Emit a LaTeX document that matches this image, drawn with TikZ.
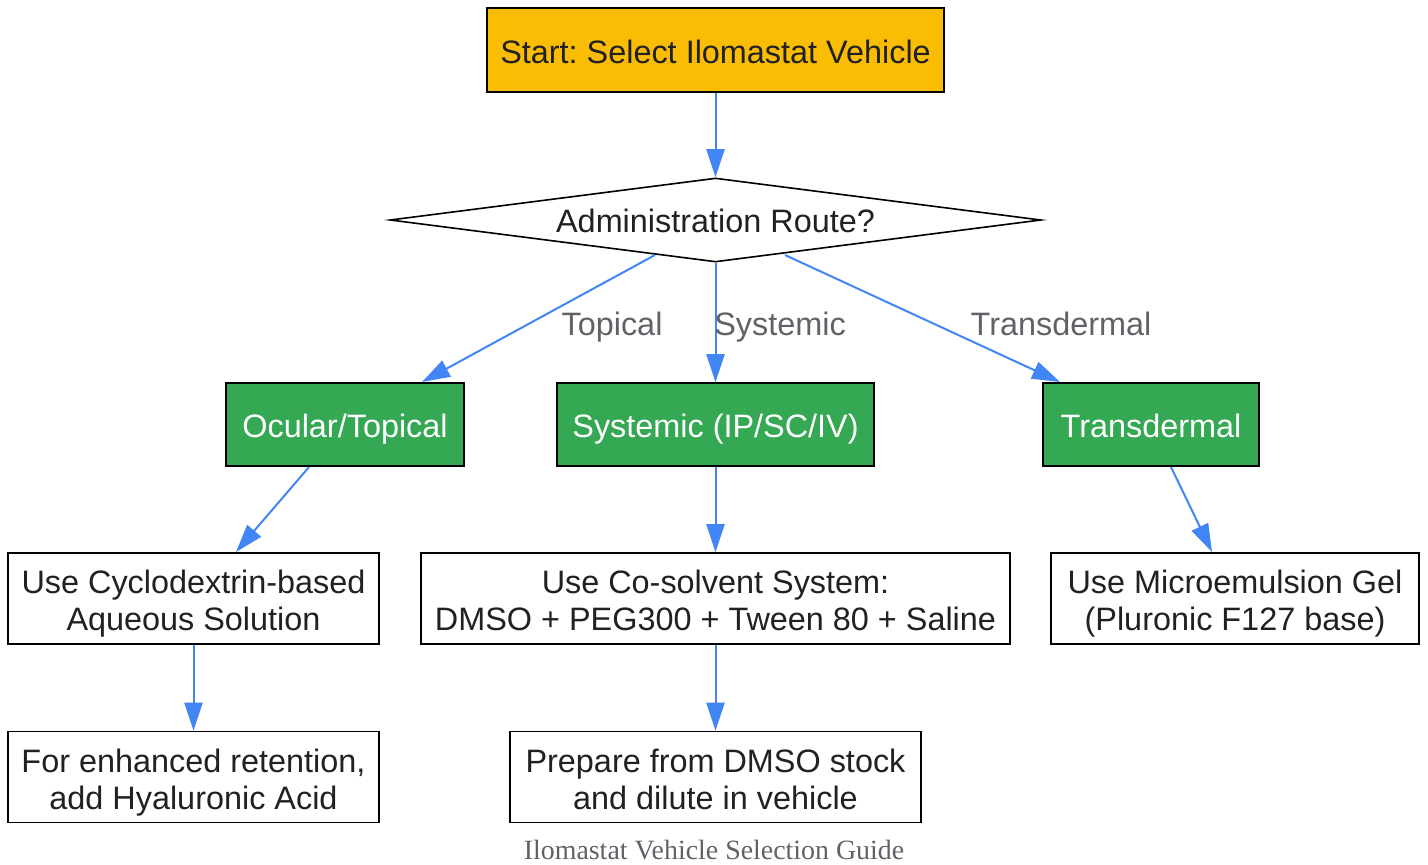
\documentclass[tikz,border=0pt]{standalone}
\usepackage{fontspec}
\setmainfont{Liberation Sans}
\newfontfamily\capfont{Liberation Serif}
\usetikzlibrary{shapes.geometric,arrows.meta}
\frenchspacing
\definecolor{startc}{HTML}{FBBC04}
\definecolor{greenc}{HTML}{34A853}
\definecolor{bluec}{HTML}{4285F4}
\definecolor{textc}{HTML}{202124}
\definecolor{labc}{HTML}{5F6368}
\tikzset{
  x=0.5pt, y=-0.5pt,
  base/.style={draw=black, line width=0.8pt, font=\fontsize{16.2}{18.5}\selectfont\frenchspacing, text=textc, inner sep=0pt, align=center},
  oneline/.style={text height=1.43em, text depth=0.13em},
  startbox/.style={base, oneline, rectangle, fill=startc, minimum width=228.5pt, minimum height=42pt},
  routebox/.style={base, oneline, rectangle, fill=greenc, text=white, minimum height=41.5pt},
  plainbox/.style={base, rectangle, fill=white, minimum height=45.5pt},
  decision/.style={base, text height=1.38em, text depth=0.13em, diamond, fill=white, aspect=7.8, minimum width=325.5pt, minimum height=42pt},
  conn/.style={draw=bluec, line width=1pt, -{Triangle[length=14pt,width=9pt]}},
  elab/.style={font=\fontsize{16.2}{18.5}\selectfont, text=labc},
}
\begin{document}
\begin{tikzpicture}
\useasboundingbox (0,0) rectangle (1428,864);
\node[startbox] (start) at (715.5,50) {Start: Select Ilomastat Vehicle};
\node[decision] (route) at (715.5,220) {Administration Route?};
\node[routebox, minimum width=119pt] (ocular) at (345,424.5) {Ocular/Topical};
\node[routebox, minimum width=158.5pt] (sys) at (715.5,424.5) {Systemic (IP/SC/IV)};
\node[routebox, minimum width=108pt] (trans) at (1151,424.5) {Transdermal};
\node[plainbox, minimum width=185.5pt] (cyclo) at (193.5,598.5) {\rule{0pt}{1.06em}Use Cyclodextrin-based\\Aqueous Solution\rule[-0.22em]{0pt}{0.1em}};
\node[plainbox, minimum width=294.5pt] (cosol) at (715.5,598.5) {\rule{0pt}{1.06em}Use Co-solvent System:\\DMSO + PEG300 + Tween 80 + Saline\rule[-0.22em]{0pt}{0.1em}};
\node[plainbox, minimum width=184pt] (micro) at (1235,598.5) {\rule{0pt}{1.06em}Use Microemulsion Gel\\(Pluronic F127 base)\rule[-0.22em]{0pt}{0.1em}};
\node[plainbox, minimum width=185.5pt] (hyal) at (193.5,777) {\rule{0pt}{1.06em}For enhanced retention,\\add Hyaluronic Acid\rule[-0.22em]{0pt}{0.1em}};
\node[plainbox, minimum width=205.5pt] (prep) at (715.5,777) {\rule{0pt}{1.06em}Prepare from DMSO stock\\and dilute in vehicle\rule[-0.22em]{0pt}{0.1em}};
\node[font=\capfont\fontsize{13.95}{16}\selectfont, text=labc] (cap) at (714,850) {Ilomastat Vehicle Selection Guide};

\coordinate (rl) at (655,255);
\coordinate (rr) at (785,255);
\coordinate (ot) at (422,382);
\coordinate (tt) at (1060,382);
\coordinate (ob) at (309,467);
\coordinate (cyt) at (236,552);
\coordinate (tb) at (1171,467);
\coordinate (mt) at (1212,552);

\draw[conn] (start) -- (route);
\draw[conn] (rl) -- (ot);
\draw[conn] (route.south) -- (sys);
\draw[conn] (rr) -- (tt);
\draw[conn] (ob) -- (cyt);
\draw[conn] (sys) -- (cosol);
\draw[conn] (tb) -- (mt);
\draw[conn] (cyclo) -- (hyal);
\draw[conn] (cosol) -- (prep);

\node[elab] (l1) at (612,327) {Topical};
\node[elab] (l2) at (780,327) {Systemic};
\node[elab] (l3) at (1061,324) {Transdermal};
\end{tikzpicture}
\end{document}
